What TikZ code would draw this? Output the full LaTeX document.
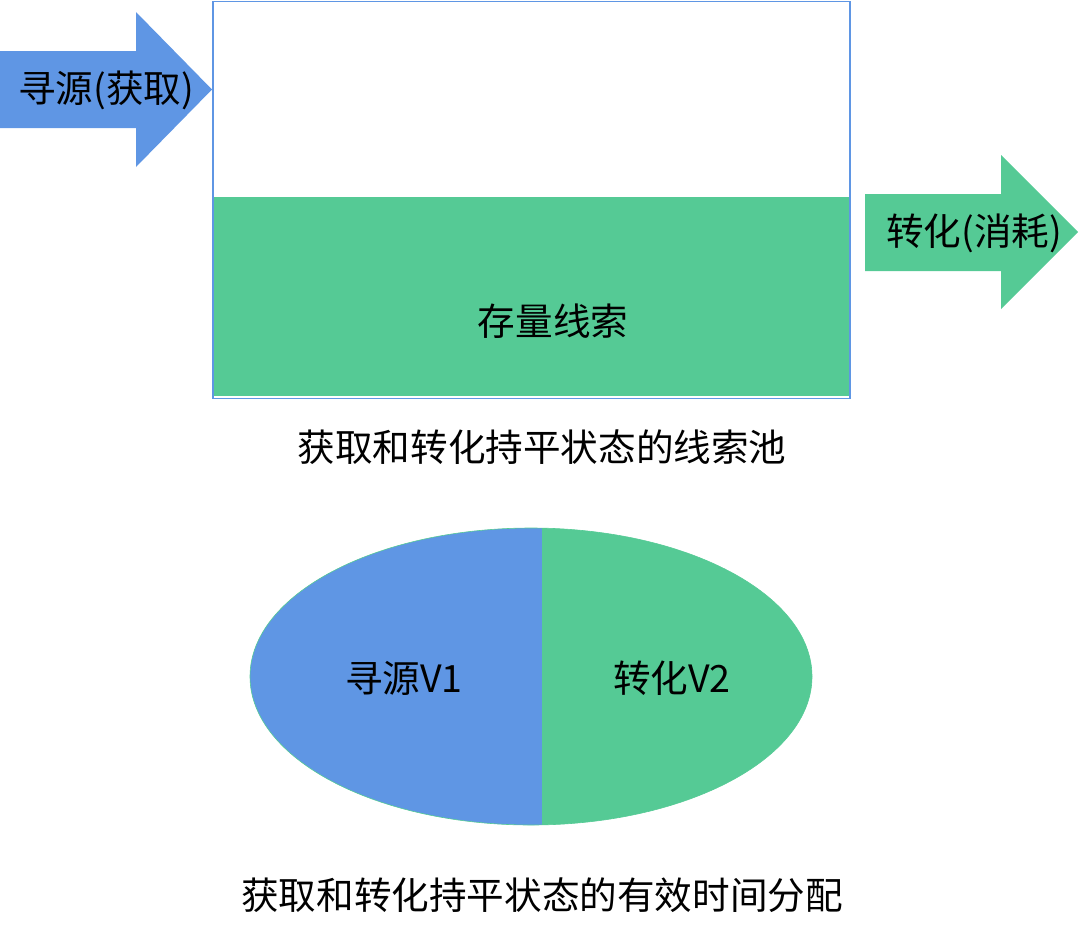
\documentclass[tikz,border=0pt]{standalone}
\usepackage{fontspec}
\setmainfont{Noto Sans CJK SC}
\usetikzlibrary{shapes.geometric}
\definecolor{cblue}{HTML}{5F96E4}
\definecolor{cgreen}{HTML}{55CA95}
\tikzset{
  lbl/.style={inner sep=0pt, font=\fontsize{37.6}{40}\selectfont, text=black},
}
\begin{document}
\begin{tikzpicture}[x=1pt,y=-1pt]
\useasboundingbox (0,0) rectangle (1079,927);
% left arrow
\fill[cblue] (0,51) -- (136,51) -- (136,12) -- (212,89.5) -- (136,167) -- (136,128) -- (0,128) -- cycle;
\node[lbl] (src) at (106,90) {寻源(获取)};
% pool rectangle
\fill[cgreen] (212,197) rectangle (849,396);
\draw[cblue, line width=1.5pt] (213,1.5) rectangle (850,398.5);
\node[lbl] (stock) at (553,321) {存量线索};
% right arrow
\fill[cgreen] (865,194) -- (1001,194) -- (1001,155) -- (1078,232) -- (1001,309) -- (1001,271) -- (865,271) -- cycle;
\node[lbl] (conv) at (974,233) {转化(消耗)};
\node[lbl] (cap1) at (542,447) {获取和转化持平状态的线索池};
% ellipse
\begin{scope}
\clip (531,676.5) ellipse [x radius=281, y radius=148.5];
\fill[cblue] (240,520) rectangle (541.5,830);
\fill[cgreen] (541.5,520) rectangle (820,830);
\end{scope}
\draw[cgreen, line width=0.6pt] (531,676.5) ellipse [x radius=281, y radius=148.5];
\node[lbl] (v1) at (404,678) {寻源V1};
\node[lbl] (v2) at (672,678) {转化V2};
\node[lbl] (cap2) at (542,895) {获取和转化持平状态的有效时间分配};
\end{tikzpicture}
\end{document}
